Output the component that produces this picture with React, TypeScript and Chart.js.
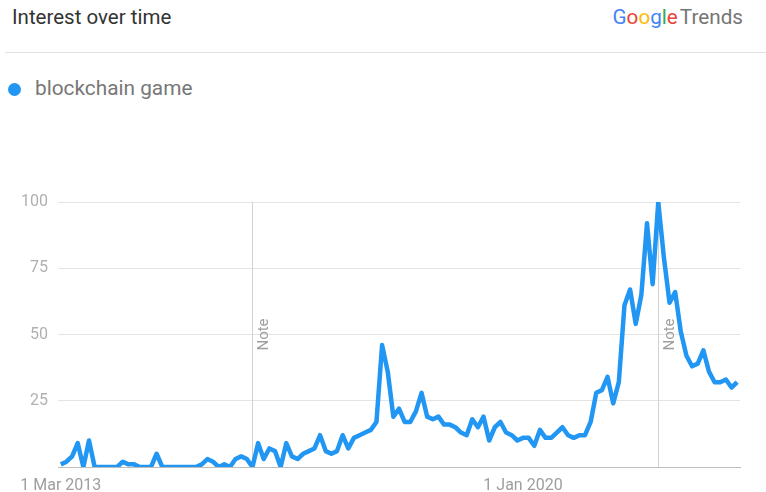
import React, { useEffect, useRef } from 'react';
import { Chart, registerables } from 'chart.js';

Chart.register(...registerables);

// Monthly categories, Mar 2013 .. Mar 2023
const FIRST_YEAR = 2013;
const FIRST_MONTH = 3;
const MONTH_COUNT = 121;
const MONTHS: string[] = [];
for (let k = 0; k < MONTH_COUNT; k++) {
  const m = FIRST_MONTH - 1 + k;
  const y = FIRST_YEAR + Math.floor(m / 12);
  const mm = (m % 12) + 1;
  MONTHS.push(`${y}-${mm < 10 ? '0' + mm : mm}`);
}

const INTEREST = [
  1, 2, 4, 9, 0, 10, 0, 0, 0, 0,
  0, 2, 1, 1, 0, 0, 0, 5, 0, 0,
  0, 0, 0, 0, 0, 1, 3, 2, 0, 1,
  0, 3, 4, 3, 0, 9, 3, 7, 6, 0,
  9, 4, 3, 5, 6, 7, 12, 6, 5, 6,
  12, 7, 11, 12, 13, 14, 17, 46, 36, 19,
  22, 17, 17, 21, 28, 19, 18, 19, 16, 16,
  15, 13, 12, 18, 15, 19, 10, 15, 17, 13,
  12, 10, 11, 11, 8, 14, 11, 11, 13, 15,
  12, 11, 12, 12, 17, 28, 29, 34, 24, 32,
  61, 67, 54, 65, 92, 69, 100, 79, 62, 66,
  51, 42, 38, 39, 44, 36, 32, 32, 33, 30,
  32,
];

const SERIES_NAME = 'blockchain game';
const Y_TICKS = [0, 25, 50, 75, 100];
const X_TICK_MONTHS = ['2013-03', '2020-01'];
const X_TICK_LABELS = ['1 Mar 2013', '1 Jan 2020'];
const NOTE_MONTHS = ['2016-01', '2022-01'];
const NOTE_TEXT = 'Note';

const LINE_COLOR = '#2196f3';
const FONT = 'Roboto, "Noto Sans", sans-serif';

const notesPlugin = {
  id: 'notes',
  beforeDatasetsDraw(chart: any) {
    const { ctx, chartArea, scales } = chart;
    const x = scales.x;
    NOTE_MONTHS.forEach((m) => {
      const idx = MONTHS.indexOf(m);
      if (idx < 0) return;
      const px = Math.round(x.getPixelForValue(idx)) + 0.5;
      ctx.save();
      ctx.strokeStyle = '#d2d2d2';
      ctx.lineWidth = 1;
      ctx.beginPath();
      ctx.moveTo(px, chartArea.top);
      ctx.lineTo(px, chartArea.bottom);
      ctx.stroke();
      ctx.translate(px + 4, (chartArea.top + chartArea.bottom) / 2);
      ctx.rotate(-Math.PI / 2);
      ctx.textAlign = 'center';
      ctx.textBaseline = 'top';
      ctx.font = `15px ${FONT}`;
      ctx.fillStyle = '#9e9e9e';
      ctx.fillText(NOTE_TEXT, 0, 0);
      ctx.restore();
    });
  },
};

function TrendChart() {
  const ref = useRef<HTMLCanvasElement | null>(null);
  useEffect(() => {
    if (!ref.current) return;
    const chart = new Chart(ref.current, {
      type: 'line',
      data: {
        labels: MONTHS,
        datasets: [
          {
            label: SERIES_NAME,
            data: INTEREST,
            borderColor: LINE_COLOR,
            backgroundColor: LINE_COLOR,
            borderWidth: 4.5,
            borderJoinStyle: 'round',
            borderCapStyle: 'butt',
            pointRadius: 0,
            tension: 0,
            fill: false,
          },
        ],
      },
      options: {
        animation: false,
        responsive: false,
        maintainAspectRatio: false,
        layout: { padding: { top: 22, right: 26, left: 0, bottom: 0 } },
        plugins: { legend: { display: false }, tooltip: { enabled: false }, title: { display: false } },
        scales: {
          x: {
            type: 'category',
            offset: true,
            grid: { display: false, drawTicks: false },
            border: { display: true, color: '#bdbdbd', width: 1 },
            ticks: {
              autoSkip: false,
              maxRotation: 0,
              minRotation: 0,
              padding: 9,
              color: '#9e9e9e',
              font: { family: FONT, size: 16 },
              callback: (_v: any, i: number) => {
                const k = X_TICK_MONTHS.indexOf(MONTHS[i]);
                return k >= 0 ? X_TICK_LABELS[k] : '';
              },
            },
            afterFit: (s: any) => {
              s.height = 25;
            },
          },
          y: {
            min: 0,
            max: 100,
            border: { display: false },
            grid: {
              drawTicks: false,
              color: (c: any) => (c.tick && c.tick.value === 0 ? '#bdbdbd' : '#e4e4e4'),
              lineWidth: 1,
            },
            afterBuildTicks: (s: any) => {
              s.ticks = Y_TICKS.map((v) => ({ value: v }));
            },
            ticks: {
              padding: 10,
              color: '#b0b0b0',
              font: { family: FONT, size: 16 },
              callback: (v: any) => (v === 0 ? '' : String(v)),
            },
            afterFit: (s: any) => {
              s.width = 58;
            },
          },
        },
      },
      plugins: [notesPlugin],
    });
    return () => chart.destroy();
  }, []);
  return (
    <canvas
      ref={ref}
      width={766}
      height={312}
      style={{ position: 'absolute', left: 0, top: 180, width: 766, height: 312 }}
    />
  );
}

export default function App() {
  const googleLetters: [string, string][] = [
    ['G', '#4285F4'],
    ['o', '#EA4335'],
    ['o', '#FBBC05'],
    ['g', '#4285F4'],
    ['l', '#34A853'],
    ['e', '#EA4335'],
  ];
  return (
    <div
      style={{
        position: 'fixed',
        left: 0,
        top: 0,
        width: 766,
        height: 492,
        background: '#fff',
        fontFamily: FONT,
        overflow: 'hidden',
      }}
    >
      <div style={{ position: 'absolute', left: 12, top: 5, fontSize: 20.5, color: '#333', lineHeight: '24px', whiteSpace: 'nowrap' }}>
        Interest over time
      </div>
      <div style={{ position: 'absolute', right: 23, top: 5, fontSize: 20.7, lineHeight: '24px', whiteSpace: 'nowrap' }}>
        <span>
          {googleLetters.map(([ch, c], i) => (
            <span key={i} style={{ color: c }}>
              {ch}
            </span>
          ))}
        </span>
        <span style={{ color: '#757575', marginLeft: 2 }}>Trends</span>
      </div>
      <div style={{ position: 'absolute', left: 5, right: 0, top: 52, height: 1, background: '#e0e0e0' }} />
      <div style={{ position: 'absolute', left: 8, top: 83, width: 13, height: 13, borderRadius: 7, background: LINE_COLOR }} />
      <div style={{ position: 'absolute', left: 35, top: 76, fontSize: 20.8, color: '#777', lineHeight: '24px', whiteSpace: 'nowrap' }}>
        {SERIES_NAME}
      </div>
      <TrendChart />
    </div>
  );
}
